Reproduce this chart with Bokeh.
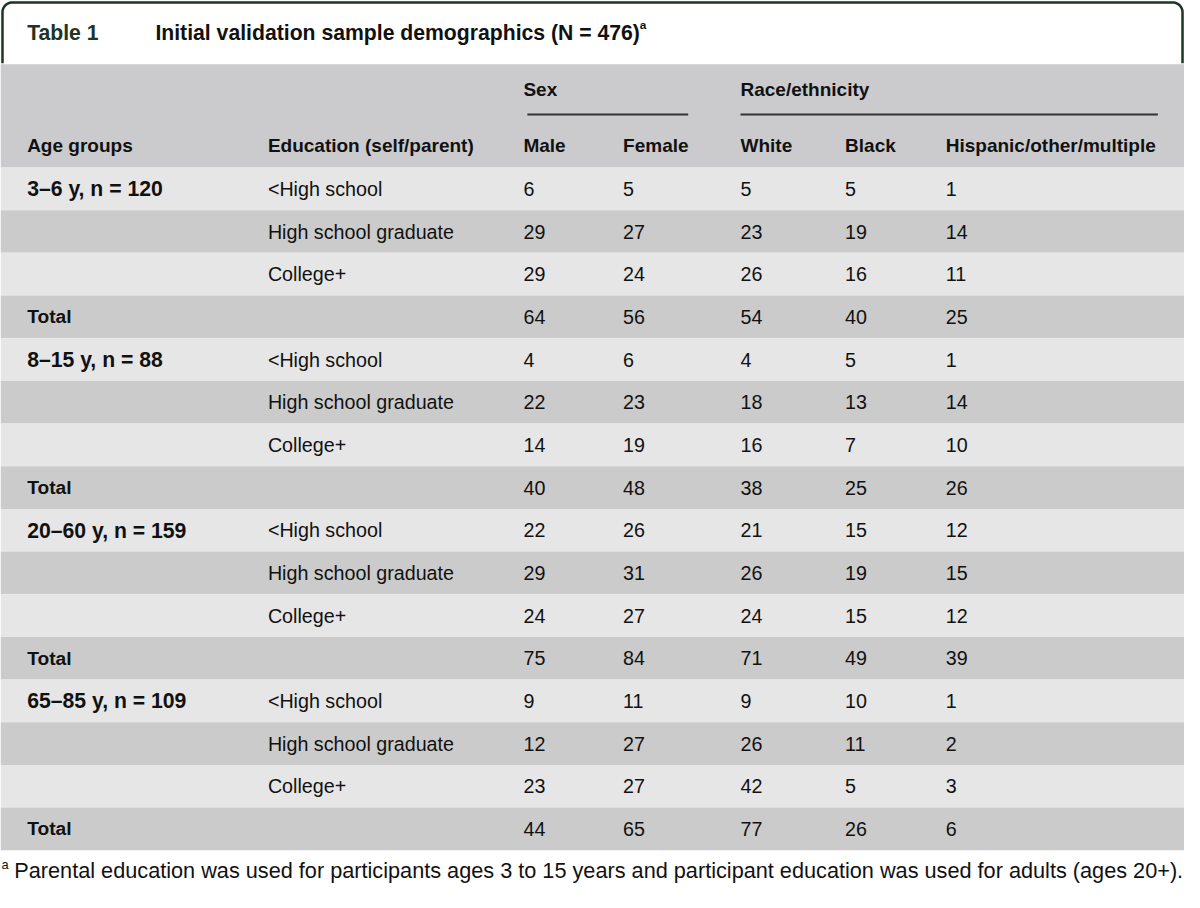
import numpy as np
from bokeh.plotting import figure
from bokeh.models import Range1d, ColumnDataSource
from bokeh.core.properties import value
from bokeh.embed import file_html
from bokeh.resources import INLINE

# ---------------- data ----------------
title_label = "Table 1"
title_text = "Initial validation sample demographics (N = 476)"
footnote_text = ("Parental education was used for participants ages 3 to 15 years and "
                 "participant education was used for adults (ages 20+).")
group_headers = ["Sex", "Race/ethnicity"]
col_headers = ["Age groups", "Education (self/parent)", "Male", "Female",
               "White", "Black", "Hispanic/other/multiple"]
age_groups = ["3–6 y, n = 120", "8–15 y, n = 88", "20–60 y, n = 159", "65–85 y, n = 109"]
education = ["<High school", "High school graduate", "College+"]

male = [6, 29, 29, 4, 22, 14, 22, 29, 24, 9, 12, 23]
female = [5, 27, 24, 6, 23, 19, 26, 31, 27, 11, 27, 27]
white = [5, 23, 26, 4, 18, 16, 21, 26, 24, 9, 26, 42]
black = [5, 19, 16, 5, 13, 7, 15, 19, 15, 10, 11, 5]
hispanic = [1, 14, 11, 1, 14, 10, 12, 15, 12, 1, 2, 3]

total_male = [64, 40, 75, 44]
total_female = [56, 48, 84, 65]
total_white = [54, 38, 71, 77]
total_black = [40, 25, 49, 26]
total_hispanic = [25, 26, 39, 6]

# ---------------- layout ----------------
W, H = 1200, 908
S = 1184 / 1200.0
FONT = "Liberation Sans"
def fs(px):
    return "%.1fpx" % (px * S)

col_x = [27, 271, 530, 631, 750, 856, 958]
table_top, table_bottom = 170, 865
n_rows = 16
row_h = (table_bottom - table_top) / n_rows

GREEN = "#1c3524"
LIGHT = "#e6e6e6"
DARK = "#cbcbcb"
HEADER = "#cbcbcd"

p = figure(width=1184, height=892, x_range=Range1d(0, W), y_range=Range1d(H, 0),
           output_backend="svg", toolbar_location=None, min_border=0)
p.axis.visible = False
p.grid.visible = False
p.outline_line_color = None
p.background_fill_color = "white"
p.border_fill_color = "white"

# title frame (rounded top)
r = 10
t = np.linspace(np.pi, 1.5 * np.pi, 20)
left_arc_x = 2 + r + r * np.cos(t)
left_arc_y = 2 + r + r * np.sin(t)
t2 = np.linspace(1.5 * np.pi, 2 * np.pi, 20)
right_arc_x = 1198 - r + r * np.cos(t2)
right_arc_y = 2 + r + r * np.sin(t2)
fx = np.concatenate([[2], left_arc_x, right_arc_x, [1198]])
fy = np.concatenate([[64], left_arc_y, right_arc_y, [64]])
p.line(fx, fy, line_color=GREEN, line_width=2.5)

# header background
p.quad(left=[0], right=[W], top=[65], bottom=[table_top], fill_color=HEADER, line_color=None)

# build rows
cells_x, cells_y, cells_t, cells_kind = [], [], [], []
ri = 0
for g in range(len(age_groups)):
    for k in range(3):
        idx = g * 3 + k
        yc = table_top + row_h * (ri + 0.5)
        if k == 0:
            cells_x.append(col_x[0]); cells_y.append(yc); cells_t.append(age_groups[g]); cells_kind.append("age")
        cells_x.append(col_x[1]); cells_y.append(yc); cells_t.append(education[k]); cells_kind.append("reg")
        for c, arr in zip(col_x[2:], [male, female, white, black, hispanic]):
            cells_x.append(c); cells_y.append(yc); cells_t.append(str(arr[idx])); cells_kind.append("reg")
        ri += 1
    yc = table_top + row_h * (ri + 0.5)
    cells_x.append(col_x[0]); cells_y.append(yc); cells_t.append("Total"); cells_kind.append("total")
    for c, arr in zip(col_x[2:], [total_male, total_female, total_white, total_black, total_hispanic]):
        cells_x.append(c); cells_y.append(yc); cells_t.append(str(arr[g])); cells_kind.append("reg")
    ri += 1

row_top = [table_top + row_h * i for i in range(n_rows)]
row_bot = [table_top + row_h * (i + 1) for i in range(n_rows)]
row_col = [LIGHT if i % 2 == 0 else DARK for i in range(n_rows)]
p.quad(left=[0] * n_rows, right=[W] * n_rows, top=row_top, bottom=row_bot,
       fill_color=row_col, line_color=None)

def src(kind):
    sel = [i for i, k in enumerate(cells_kind) if k == kind]
    return ColumnDataSource(dict(x=[cells_x[i] for i in sel], y=[cells_y[i] for i in sel],
                                 t=[cells_t[i] for i in sel]))

p.text(x="x", y="y", text="t", source=src("reg"), text_font=value(FONT), text_font_size=fs(20),
       text_color="#111111", text_baseline="middle", text_align="left")
p.text(x="x", y="y", text="t", source=src("age"), text_font=value(FONT), text_font_size=fs(21.5),
       text_font_style="bold", text_color="#111111", text_baseline="middle", text_align="left")
p.text(x="x", y="y", text="t", source=src("total"), text_font=value(FONT), text_font_size=fs(19.5),
       text_font_style="bold", text_color="#111111", text_baseline="middle", text_align="left")

# headers
p.text(x=col_x, y=[148] * len(col_x), text=col_headers, text_font=value(FONT),
       text_font_size=fs(19.3), text_font_style="bold", text_color="#111111",
       text_baseline="middle", text_align="left")
p.text(x=[col_x[2], col_x[4]], y=[91, 91], text=group_headers, text_font=value(FONT),
       text_font_size=fs(19.3), text_font_style="bold", text_color="#111111",
       text_baseline="middle", text_align="left")
p.segment(x0=[534, 750], y0=[116, 116], x1=[697, 1173], y1=[116, 116],
          line_color="#333333", line_width=2)

# title
p.text(x=[27], y=[33], text=[title_label], text_font=value(FONT), text_font_size=fs(21.5),
       text_font_style="bold", text_color=GREEN, text_baseline="middle")
p.text(x=[157], y=[33], text=[title_text], text_font=value(FONT), text_font_size=fs(21.5),
       text_font_style="bold", text_color="#111111", text_baseline="middle")
p.text(x=[648], y=[25], text=["a"], text_font=value(FONT), text_font_size=fs(12),
       text_font_style="bold", text_color="#111111", text_baseline="middle")

# footnote
p.text(x=[1], y=[879], text=["a"], text_font=value(FONT), text_font_size=fs(13),
       text_color="#111111", text_baseline="middle")
p.text(x=[14], y=[886], text=[footnote_text], text_font=value(FONT), text_font_size=fs(22),
       text_color="#111111", text_baseline="middle")

open("out.html", "w").write(file_html(p, INLINE))
